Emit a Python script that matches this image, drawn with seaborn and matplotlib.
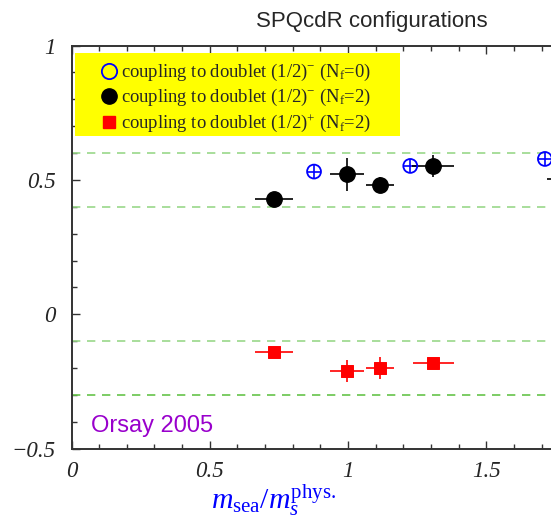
import numpy as np
import pandas as pd
import seaborn as sns
import matplotlib.pyplot as plt
from matplotlib.lines import Line2D
from matplotlib.patches import Rectangle
from matplotlib.ticker import MultipleLocator

# ---------------------------------------
# Data
# ---------------------------------------
nf0_x = [0.877, 1.225, 1.712]
nf0_y = [0.531, 0.552, 0.578]
nf0_xerr = [0.024, 0.024, 0.024]
nf0_yerr = [0.025, 0.025, 0.025]

neg_x = [0.732, 0.996, 1.115, 1.309, 1.82]
neg_y = [0.429, 0.521, 0.480, 0.550, 0.503]
neg_xerr = [0.069, 0.060, 0.051, 0.076, 0.10]
neg_yerr = [0.010, 0.061, 0.030, 0.041, 0.010]

pos_x = [0.732, 0.996, 1.115, 1.309]
pos_y = [-0.140, -0.211, -0.200, -0.181]
pos_xerr = [0.069, 0.060, 0.051, 0.074]
pos_yerr = [0.012, 0.042, 0.041, 0.010]

band_lines = [0.6, 0.4, -0.1, -0.3]
band_colors = ["#9ad88a", "#9ad88a", "#9ad88a", "#66c44a"]

labels = [
    r"coupling to doublet (1/2)$^{-}$ (N$_{\rm f}$=0)",
    r"coupling to doublet (1/2)$^{-}$ (N$_{\rm f}$=2)",
    r"coupling to doublet (1/2)$^{+}$ (N$_{\rm f}$=2)",
]

# ---------------------------------------
# Theme
# ---------------------------------------
sns.set_theme(style="ticks")
plt.rcParams["font.family"] = ["Liberation Serif", "DejaVu Serif"]
plt.rcParams["mathtext.fontset"] = "custom"
plt.rcParams["mathtext.rm"] = "Liberation Serif"
plt.rcParams["mathtext.it"] = "Liberation Serif:italic"
plt.rcParams["axes.unicode_minus"] = True

fig = plt.figure(figsize=(5.51, 5.19), dpi=100)
ax = fig.add_axes([0.1298, 0.1355, 0.8702, 0.7768])

# dashed reference lines
for yv, c in zip(band_lines, band_colors):
    ax.axhline(yv, color=c, ls=(0, (5, 4)), lw=1.2, zorder=1)

# error bars
ax.errorbar(nf0_x, nf0_y, xerr=nf0_xerr, yerr=nf0_yerr, fmt="none",
            ecolor="blue", elinewidth=1.2, capsize=0, zorder=2)
ax.errorbar(neg_x, neg_y, xerr=neg_xerr, yerr=neg_yerr, fmt="none",
            ecolor="black", elinewidth=1.2, capsize=0, zorder=2)
ax.errorbar(pos_x, pos_y, xerr=pos_xerr, yerr=pos_yerr, fmt="none",
            ecolor="red", elinewidth=1.2, capsize=0, zorder=2)

# markers
df0 = pd.DataFrame({"x": nf0_x, "y": nf0_y})
dfn = pd.DataFrame({"x": neg_x, "y": neg_y})
dfp = pd.DataFrame({"x": pos_x, "y": pos_y})
sns.scatterplot(data=df0, x="x", y="y", ax=ax, marker="o", s=100,
                facecolor="none", edgecolor="blue", linewidth=1.3, zorder=3)
sns.scatterplot(data=dfn, x="x", y="y", ax=ax, marker="o", s=125,
                color="black", edgecolor="black", zorder=3)
sns.scatterplot(data=dfp, x="x", y="y", ax=ax, marker="s", s=75,
                color="red", edgecolor="red", zorder=3)

# ---------------------------------------
# Axes styling
# ---------------------------------------
ax.set_xlim(0, 1.734)
ax.set_ylim(-0.5, 1.0)
ax.set_xlabel("")
ax.set_ylabel("")
ax.spines["right"].set_visible(False)
for s in ["left", "bottom", "top"]:
    ax.spines[s].set_linewidth(1.4)
    ax.spines[s].set_color("#333333")

ax.xaxis.set_major_locator(MultipleLocator(0.5))
ax.xaxis.set_minor_locator(MultipleLocator(0.1))
ax.yaxis.set_major_locator(MultipleLocator(0.5))
ax.yaxis.set_minor_locator(MultipleLocator(0.1))
ax.tick_params(which="both", direction="in", top=True, right=False,
               color="#333333", width=1.0)
ax.tick_params(which="major", length=6)
ax.tick_params(which="minor", length=3.5)
ax.tick_params(axis="x", which="major", pad=9, labelsize=16.5)
ax.tick_params(axis="y", which="major", pad=11.5, labelsize=16.5)
ax.set_xticks([0, 0.5, 1, 1.5])
ax.set_xticklabels(["0", "0.5", "1", "1.5"], fontstyle="italic")
ax.set_yticks([-0.5, 0, 0.5, 1])
ax.set_yticklabels(["\u22120.5", "0", "0.5", "1"], fontstyle="italic")

# legend on a yellow box
ax.add_patch(Rectangle((0.0073, 0.7755), 0.6777, 0.2055, transform=ax.transAxes,
                       facecolor="#ffff00", edgecolor="none", zorder=4))
handles = [
    Line2D([], [], ls="none", marker="o", ms=11, mfc="none", mec="blue", mew=1.3),
    Line2D([], [], ls="none", marker="o", ms=11, mfc="black", mec="black"),
    Line2D([], [], ls="none", marker="s", ms=8, mfc="red", mec="red"),
]
leg = ax.legend(handles, labels, loc="upper left", bbox_to_anchor=(0.0594, 0.959),
                frameon=False, handlelength=1.0, handletextpad=0.13,
                borderpad=0, labelspacing=0.22, borderaxespad=0,
                prop={"family": "Liberation Serif", "size": 13.4})
leg.set_zorder(5)

# annotations
fig.text(372 / 551, 1 - 22 / 519, "SPQcdR configurations", ha="center", va="center",
         fontsize=16, family="Liberation Sans")
ax.text(0.069, -0.416, "Orsay 2005", color="#9900cc", fontsize=17,
        family="Liberation Sans", ha="left", va="center")
fig.text(274 / 551, 1 - 509 / 519, r"$m_{\rm sea}/m_s^{\rm phys.}$", color="blue",
         ha="center", va="baseline", fontsize=21.5)

fig.savefig("out.png", dpi=100)
